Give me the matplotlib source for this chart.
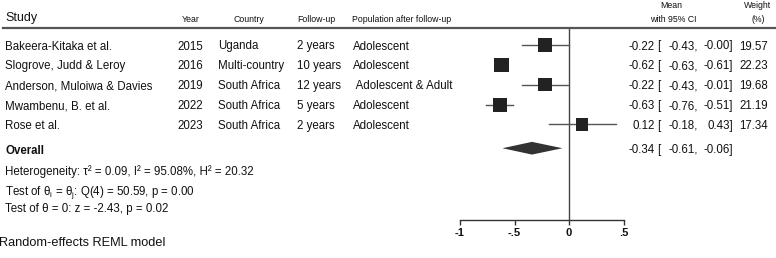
import matplotlib
matplotlib.use("Agg")
import matplotlib.pyplot as plt
import matplotlib.transforms as mtransforms
from matplotlib.lines import Line2D
import numpy as np

plt.rcParams['font.family'] = ['Liberation Sans', 'DejaVu Sans']

studies = ["Bakeera-Kitaka et al.", "Slogrove, Judd & Leroy", "Anderson, Muloiwa & Davies",
           "Mwambenu, B. et al.", "Rose et al."]
years = ["2015", "2016", "2019", "2022", "2023"]
countries = ["Uganda", "Multi-country", "South Africa", "South Africa", "South Africa"]
followups = ["2 years", "10 years", "12 years", "5 years", "2 years"]
populations = ["Adolescent", "Adolescent", " Adolescent & Adult", "Adolescent", "Adolescent"]
means = [-0.22, -0.62, -0.22, -0.63, 0.12]
lowers = [-0.43, -0.63, -0.43, -0.76, -0.18]
uppers = [-0.00, -0.61, -0.01, -0.51, 0.43]
weights = [19.57, 22.23, 19.68, 21.19, 17.34]
overall_mean, overall_lo, overall_hi = -0.34, -0.61, -0.06
xticks = [-1, -0.5, 0, 0.5]
xticklabels = ["-1", "-.5", "0", ".5"]

W, H = 776, 258
fig = plt.figure(figsize=(W / 100, H / 100), dpi=100)

def fx(px):
    return px / W

def fy(py):
    return 1 - py / H

TXT = "#111111"

# forest axes: x px 440..640, y px 27..220
ax = fig.add_axes([fx(440), fy(220), fx(640) - fx(440), fy(27) - fy(220)])
ax.set_xlim((440 - 569) / 109, (640 - 569) / 109)
row_px0, row_dpx = 45, 19.85
ax.set_ylim((220 - row_px0) / row_dpx, (27 - row_px0) / row_dpx)
ax.patch.set_alpha(0)
for s in ["top", "right", "left"]:
    ax.spines[s].set_visible(False)
ax.spines["bottom"].set_bounds(-1, 0.5)
ax.spines["bottom"].set_color("#333333")
ax.spines["bottom"].set_linewidth(1.0)
ax.set_yticks([])
ax.set_xticks(xticks)
ax.set_xticklabels(xticklabels)
ax.tick_params(axis="x", direction="out", length=3.5, width=1, color="#333333",
               labelsize=8, pad=2.5, labelcolor=TXT)
for lab in ax.get_xticklabels():
    lab.set_fontweight("bold")

ax.axvline(0, color="#444444", lw=1.0, zorder=1)

rows = np.arange(len(studies))
for r, lo, hi in zip(rows, lowers, uppers):
    ax.plot([lo, hi], [r, r], color="#555555", lw=1.0, zorder=2)
ax.scatter(means, rows, marker="s", s=[4.8 * w for w in weights], color="#222222",
           zorder=3, linewidths=0)

orow = 5.2
dh = 0.32
ax.fill([overall_lo, overall_mean, overall_hi, overall_mean],
        [orow, orow - dh, orow, orow + dh], color="#333333", lw=0, zorder=3)

# text columns
tr = mtransforms.blended_transform_factory(fig.transFigure, ax.transData)
fs = 8.3
kw = dict(transform=tr, va="center_baseline", fontsize=fs, color=TXT, clip_on=False)
for r in list(rows):
    ax.text(fx(5), r, studies[r], ha="left", **kw)
    ax.text(fx(203), r, years[r], ha="right", **kw)
    ax.text(fx(218), r, countries[r], ha="left", **kw)
    ax.text(fx(297), r, followups[r], ha="left", **kw)
    ax.text(fx(353), r, populations[r], ha="left", **kw)
    ax.text(fx(655), r, f"{means[r]:.2f}", ha="right", **kw)
    ax.text(fx(657.5), r, "[", ha="left", **kw)
    ax.text(fx(698), r, f"{lowers[r]:.2f},", ha="right", **kw)
    ax.text(fx(733), r, f"{uppers[r]:.2f}]", ha="right", **kw)
    ax.text(fx(768), r, f"{weights[r]:.2f}", ha="right", **kw)

ax.text(fx(5), orow + 0.05, "Overall", ha="left", fontweight="bold", **kw)
ax.text(fx(655), orow, f"{overall_mean:.2f}", ha="right", **kw)
ax.text(fx(657.5), orow, "[", ha="left", **kw)
ax.text(fx(698), orow, f"{overall_lo:.2f},", ha="right", **kw)
ax.text(fx(733), orow, f"{overall_hi:.2f}]", ha="right", **kw)

# header
hfs = 6.3
hk = dict(va="center_baseline", fontsize=hfs, color=TXT)
fig.text(fx(5), fy(16), "Study", ha="left", va="center_baseline", fontsize=9, color=TXT)
fig.text(fx(191), fy(19), "Year", ha="center", **hk)
fig.text(fx(249), fy(19), "Country", ha="center", **hk)
fig.text(fx(297), fy(19), "Follow-up", ha="left", **hk)
fig.text(fx(352), fy(19), "Population after follow-up", ha="left", **hk)
fig.text(fx(671), fy(4), "Mean", ha="center", **hk)
fig.text(fx(673), fy(19), "with 95% CI", ha="center", **hk)
fig.text(fx(758), fy(4), "Weight", ha="center", **hk)
fig.text(fx(758), fy(19), "(%)", ha="center", **hk)
fig.add_artist(Line2D([fx(3), fx(776)], [fy(27.5), fy(27.5)], transform=fig.transFigure,
                      color="#555555", lw=1.6))

# footer text
ffs = 8.3
fk = dict(ha="left", va="center_baseline", fontsize=ffs, color=TXT)
fig.text(fx(5), fy(170.5), "Heterogeneity: τ² = 0.09, I² = 95.08%, H² = 20.32", **fk)
fig.text(fx(5), fy(189), "Test of θ$_\\mathregular{i}$ = θ$_\\mathregular{j}$: Q(4) = 50.59, p = 0.00", **fk)
fig.text(fx(5), fy(207.5), "Test of θ = 0: z = -2.43, p = 0.02", **fk)
fig.text(fx(-1), fy(241.5), "Random-effects REML model", ha="left", va="center_baseline",
         fontsize=9.2, color=TXT)

fig.savefig("out.png", dpi=100)
